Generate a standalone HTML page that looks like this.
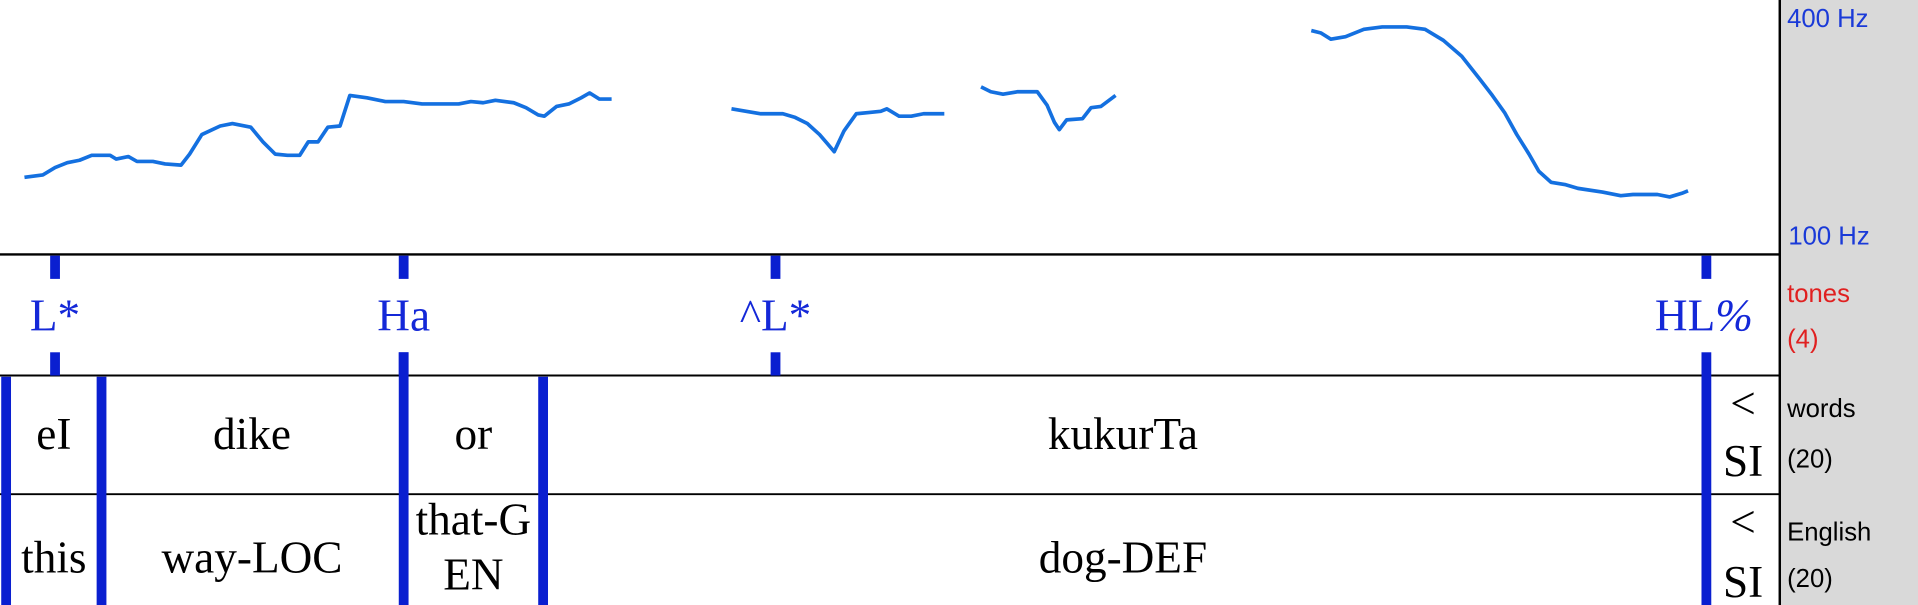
<!DOCTYPE html>
<html><head><meta charset="utf-8"><style>html,body{margin:0;padding:0;background:#fff}svg{display:block}</style></head>
<body>
<svg width="1918" height="605" viewBox="0 0 1568 494.6" xmlns="http://www.w3.org/2000/svg">
<rect x="0" y="0" width="1568" height="495" fill="#fff"/>
<rect x="1456" y="0" width="112" height="495" fill="#d9d9d9"/>
<line x1="1455" y1="0" x2="1455" y2="495" stroke="#000" stroke-width="2"/>
<line x1="0" y1="208" x2="1455" y2="208" stroke="#000" stroke-width="2"/>
<line x1="0" y1="307" x2="1455" y2="307" stroke="#000" stroke-width="1.6"/>
<line x1="0" y1="404" x2="1455" y2="404" stroke="#000" stroke-width="1.6"/>
<g fill="none" stroke="#1470e0" stroke-width="3" stroke-linejoin="round">
<polyline points="20,145 35,143 45,137 55,133 65,131 75,127 90,127 95,130 105,128 112,132 125,132 135,134 148,135 155,126 165,110 180,103 190,101 205,104 215,116 225,126 235,127 245,127 252,116 260,116 268,104 278,103 286,78 300,80 315,83 330,83 345,85 375,85 385,83 395,84 405,82 420,84 430,88 440,94 445,95 455,87 465,85 475,80 482,76 490,81 500,81"/>
<polyline points="598,89 610,91 622,93 640,93 650,96 660,101 670,110 676,117 682,124 690,107 700,93 710,92 720,91 725,89 735,95 745,95 755,93 772,93"/>
<polyline points="802,71 810,75 820,77 832,75 848,75 856,86 862,100 866,106 872,98 885,97 892,88 900,87 912,78"/>
<polyline points="1072,25 1080,27 1088,32 1100,30 1115,24 1130,22 1150,22 1165,24 1180,33 1195,46 1210,65 1220,78 1230,92 1240,110 1250,126 1258,140 1268,149 1280,151 1290,154 1310,157 1325,160 1335,159 1355,159 1365,161 1375,158 1380,156"/>
</g>
<g fill="#0a1fd0">
<rect x="41" y="209" width="8" height="19"/><rect x="41" y="288" width="8" height="19"/>
<rect x="326" y="209" width="8" height="19"/><rect x="326" y="288" width="8" height="19"/>
<rect x="630" y="209" width="8" height="19"/><rect x="630" y="288" width="8" height="19"/>
<rect x="1391" y="209" width="8" height="19"/>
<rect x="1" y="308" width="8" height="187"/>
<rect x="79" y="308" width="8" height="187"/>
<rect x="326" y="288" width="8" height="207"/>
<rect x="440" y="308" width="8" height="187"/>
<rect x="1391" y="288" width="8" height="207"/>
</g>
<g font-family="Liberation Serif, serif" font-size="37" fill="#1428d8" text-anchor="middle">
<text x="45" y="270">L*</text>
<text x="330" y="270">Ha</text>
<text x="634" y="270">^L*</text>
<text x="1393" y="270">HL<tspan font-style="italic">%</tspan></text>
</g>
<g font-family="Liberation Serif, serif" font-size="37" fill="#000" text-anchor="middle">
<text x="44" y="367">eI</text>
<text x="206" y="367">dike</text>
<text x="387" y="367">or</text>
<text x="918" y="367">kukurTa</text>
<text x="1425" y="342">&lt;</text>
<text x="1425" y="389">SI</text>
<text x="44" y="468">this</text>
<text x="206" y="468">way-LOC</text>
<text x="387" y="437">that-G</text>
<text x="387" y="482">EN</text>
<text x="918" y="468">dog-DEF</text>
<text x="1425" y="439">&lt;</text>
<text x="1425" y="488">SI</text>
</g>
<g font-family="Liberation Sans, sans-serif" font-size="21">
<text x="1461" y="22" fill="#1a3ad8">400 Hz</text>
<text x="1462" y="200" fill="#1a3ad8">100 Hz</text>
<text x="1461" y="247" fill="#e02020">tones</text>
<text x="1461" y="284" fill="#e02020">(4)</text>
<text x="1461" y="341" fill="#000">words</text>
<text x="1461" y="382" fill="#000">(20)</text>
<text x="1461" y="442" fill="#000">English</text>
<text x="1461" y="480" fill="#000">(20)</text>
</g>
</svg>
</body></html>
